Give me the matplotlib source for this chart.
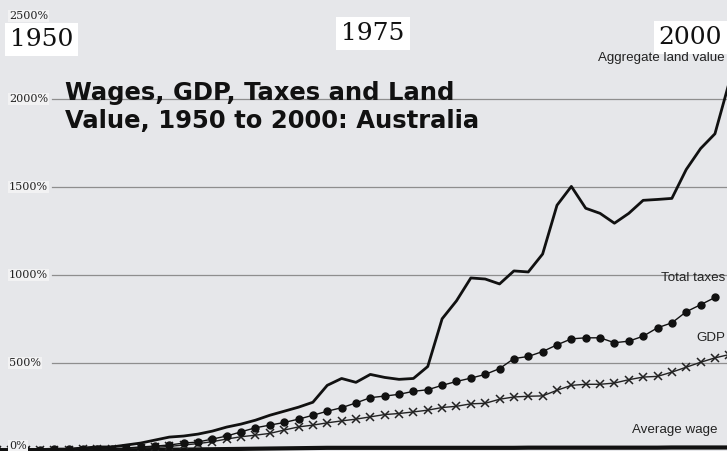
import numpy as np
import matplotlib
matplotlib.use("Agg")
import matplotlib.pyplot as plt

# Values, % change since 1950
years = np.arange(1950, 2002)
land_value = [5, 5, 8, 8, 11, 11, 17, 23, 23, 34,
              45, 62, 79, 85, 96, 113, 136, 153, 175, 203,
              226, 249, 277, 373, 412, 390, 435, 418, 407, 412,
              480, 751, 853, 983, 977, 949, 1023, 1017, 1119, 1396,
              1503, 1379, 1350, 1294, 1350, 1424, 1429, 1435, 1599, 1718,
              1802, 2096]
taxes = [5, 6, 7, 8, 9, 10, 11, 11, 12, 17,
         23, 28, 34, 45, 51, 68, 85, 109, 132, 147,
         162, 181, 203, 226, 246, 273, 303, 312, 322, 339,
         348, 373, 395, 414, 435, 468, 525, 537, 565, 603,
         637, 643, 643, 615, 624, 652, 700, 728, 791, 831,
         872]
gdp = [4, 5, 6, 6, 7, 8, 9, 10, 12, 14,
       17, 21, 26, 34, 42, 53, 68, 81, 90, 100,
       119, 137, 147, 160, 171, 181, 194, 207, 213, 222,
       232, 247, 254, 268, 271, 294, 307, 311, 313, 345,
       373, 379, 379, 386, 405, 420, 424, 448, 476, 504,
       529, 548]
avg_wage = [5, 5, 5, 5, 5, 5, 5, 6, 6, 6,
            7, 7, 8, 8, 9, 10, 11, 12, 13, 14,
            15, 16, 17, 18, 18, 18, 18, 18, 18, 18,
            18, 18, 18, 18, 18, 18, 18, 19, 19, 19,
            19, 19, 19, 19, 19, 19, 19, 20, 20, 20,
            20, 20]

grid_values = [500, 1000, 1500, 2000]
tick_values = [0, 500, 1000, 1500, 2000, 2500]
tick_labels = ["0%", "500%", "1000%", "1500%", "2000%", "2500%"]
year_labels = ["1950", "1975", "2000"]

W, H = 727, 451
fig = plt.figure(figsize=(W / 100, H / 100), dpi=100)
fig.patch.set_facecolor("#e6e7ea")
ax = fig.add_axes([0, 0, 1, 1])
ax.set_facecolor("#e6e7ea")
ax.set_xlim(1950.21, 2000.84)
ax.set_ylim(0, 2562)
ax.axis("off")

for v in grid_values:
    ax.axhline(v, xmin=52 / W, xmax=1, color="#8e8e8e", lw=0.9, zorder=1)

ax.plot(years, avg_wage, color="#111111", lw=3.0, zorder=3)
ax.plot(years, gdp, color="#222222", lw=1.0, marker="x", ms=5.5, mew=1.1, zorder=3)
ax.plot(years[:len(taxes)], taxes, color="#111111", lw=1.0, marker="o", ms=5, zorder=3)
ax.plot(years, land_value, color="#111111", lw=2.0, zorder=4)

# y labels
for v, lab in zip(tick_values, tick_labels):
    va = "center"
    if v == 0:
        va = "bottom"
    elif v == 2500:
        va = "top"
    ax.text(9 / W, v, lab, transform=ax.get_yaxis_transform(), ha="left", va=va,
            family="DejaVu Serif", fontsize=8, color="#222222", zorder=5,
            bbox=dict(boxstyle="square,pad=0.12", fc="#f2f2f3", ec="none"))

# year labels
box = dict(boxstyle="square,pad=0.2", fc="white", ec="none")
fig.text(10 / W, 1 - 39 / H, year_labels[0], ha="left", va="center",
         family="DejaVu Serif", fontsize=18, color="#111111", bbox=box)
fig.text(373 / W, 1 - 33 / H, year_labels[1], ha="center", va="center",
         family="DejaVu Serif", fontsize=18, color="#111111", bbox=box)
fig.text(722 / W, 1 - 37 / H, year_labels[2], ha="right", va="center",
         family="DejaVu Serif", fontsize=18, color="#111111", bbox=box)

fig.text(65 / W, 1 - 128 / H, "Wages, GDP, Taxes and Land\nValue, 1950 to 2000: Australia",
         ha="left", va="baseline", family="DejaVu Sans", fontweight="bold",
         fontsize=17.5, color="#111111", linespacing=1.2)

# series labels
lab_kw = dict(family="Liberation Sans", fontsize=9.6, color="#222222", va="center", ha="right")
fig.text(725 / W, 1 - 58 / H, "Aggregate land value", **lab_kw)
fig.text(725 / W, 1 - 278 / H, "Total taxes", **lab_kw)
fig.text(725 / W, 1 - 338 / H, "GDP", **lab_kw)
fig.text(718 / W, 1 - 430 / H, "Average wage", **lab_kw)

fig.savefig("out.png", dpi=100, facecolor=fig.get_facecolor())
